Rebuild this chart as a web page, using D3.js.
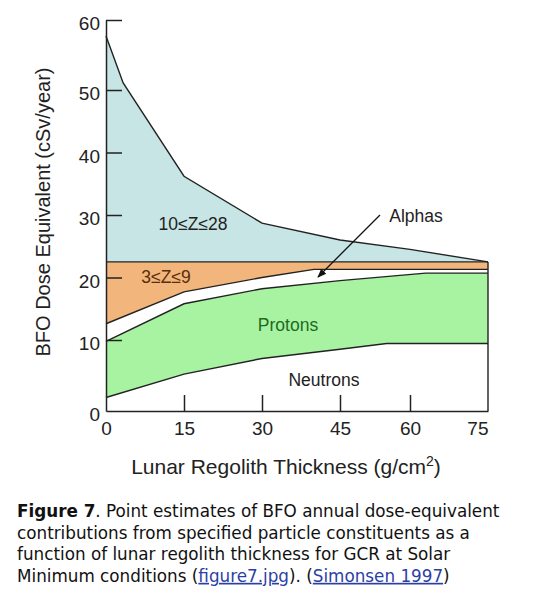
<!DOCTYPE html>
<html>
<head>
<meta charset="utf-8">
<script src="https://cdn.jsdelivr.net/npm/d3@7"></script>
<style>
  body { margin: 0; background: #fff; }
  text { font-family: "Liberation Sans", Arial, sans-serif; fill: #222; }
  .caption text { font-family: "DejaVu Sans", Verdana, sans-serif; }
</style>
</head>
<body>
<svg id="chart" width="540" height="593"></svg>
<script>
// DATA: cumulative layer tops [thickness g/cm2, dose cSv/year]
const neutronsTop = [[0, 1.9], [15, 5.2], [30, 7.4], [45, 8.7], [55, 9.5], [75, 9.5]];
const protonsTop = [[0, 9.8], [15, 15.8], [30, 18.2], [45, 19.5], [63, 20.7], [75, 20.7]];
const alphasTop = [[0, 12.6], [15, 17.7], [30, 20], [40, 21.3], [75, 21.3]];
const lightTop = [[0, 22.5], [75, 22.5]];
const heavyTop = [[0, 57.7], [3.3, 51], [15, 36.2], [30, 28.7], [45, 26], [60, 24.5], [75, 22.5]];

const xTicks = [0, 15, 30, 45, 60, 75];
const yTicks = [0, 10, 20, 30, 40, 50, 60];

const svg = d3.select('#chart');

//SCALES (the original drawing is not evenly spaced)
const x = d3.scaleLinear()
  .domain([0, 15, 30, 45, 60, 75])
  .range([106, 184, 262, 340, 410, 488]);

const y = d3.scaleLinear()
  .domain([0, 10, 50, 60])
  .range([411, 340, 90, 20]);

const line = d3.line().x(d => x(d[0])).y(d => y(d[1]));

// area between two boundaries
function band(lower, upper) {
  return line(upper.concat(lower.slice().reverse())) + 'Z';
}

const layers = [
  { lower: neutronsTop, upper: protonsTop, fill: '#a7f3a1' },
  { lower: alphasTop, upper: lightTop, fill: '#f2b67c' },
  { lower: lightTop, upper: heavyTop, fill: '#c6e5e4' },
];

svg.selectAll('.layer')
  .data(layers)
  .enter()
  .append('path')
  .attr('class', 'layer')
  .attr('d', d => band(d.lower, d.upper))
  .attr('fill', d => d.fill);

//BOUNDARY LINES
svg.selectAll('.edge')
  .data([neutronsTop, protonsTop, alphasTop, lightTop, heavyTop])
  .enter()
  .append('path')
  .attr('class', 'edge')
  .attr('d', line)
  .attr('fill', 'none')
  .attr('stroke', '#222')
  .attr('stroke-width', 1.4);

// right edge
svg.append('line')
  .attr('x1', x(75)).attr('x2', x(75))
  .attr('y1', y(0)).attr('y2', y(22.5))
  .attr('stroke', '#222')
  .attr('stroke-width', 1.4);

//AXES
const xAxis = svg.append('g')
  .attr('transform', `translate(0,${y(0)})`)
  .call(d3.axisBottom(x).tickValues(xTicks).tickSizeInner(-16).tickSizeOuter(0).tickPadding(11));

const yAxis = svg.append('g')
  .attr('transform', `translate(${x(0)},0)`)
  .call(d3.axisLeft(y).tickValues(yTicks).tickSizeInner(-16).tickSizeOuter(0).tickPadding(6));

[xAxis, yAxis].forEach(g => {
  g.select('.domain').attr('stroke', '#222').attr('stroke-width', 1.5);
  g.selectAll('.tick line').attr('stroke', '#222').attr('stroke-width', 1.5);
  g.selectAll('.tick text')
    .attr('font-family', '"Liberation Sans", Arial, sans-serif')
    .attr('font-size', 19)
    .attr('fill', '#222');
});
xAxis.selectAll('.tick').filter(d => d === 0 || d === 75).select('line').remove();
xAxis.selectAll('.tick').filter(d => d === 75).select('text').attr('text-anchor', 'end');
yAxis.selectAll('.tick').filter(d => d === 0).select('line').remove();
yAxis.selectAll('.tick text').attr('dy', '0.5em');

//AXIS TITLES
const xTitle = svg.append('text')
  .attr('x', 286)
  .attr('y', 474)
  .attr('font-size', 21)
  .style('text-anchor', 'middle');
xTitle.append('tspan').text('Lunar Regolith Thickness (g/cm');
xTitle.append('tspan').attr('font-size', 14).attr('dy', -8).text('2');
xTitle.append('tspan').attr('dy', 8).text(')');

svg.append('text')
  .attr('transform', 'translate(50,212) rotate(-90)')
  .attr('font-size', 20)
  .style('text-anchor', 'middle')
  .text('BFO Dose Equivalent (cSv/year)');

//REGION LABELS
const labels = [
  { t: '10\u2264Z\u226428', x: 193, y: 230, c: '#222' },
  { t: '3\u2264Z\u22649', x: 166, y: 283, c: '#5a2d0c' },
  { t: 'Protons', x: 288, y: 331, c: '#1e6a1e' },
  { t: 'Neutrons', x: 324, y: 386, c: '#222' },
  { t: 'Alphas', x: 416, y: 222, c: '#222' },
];
svg.selectAll('.lbl')
  .data(labels)
  .enter()
  .append('text')
  .attr('class', 'lbl')
  .attr('x', d => d.x)
  .attr('y', d => d.y)
  .attr('font-size', 17.5)
  .style('text-anchor', 'middle')
  .style('fill', d => d.c)
  .text(d => d.t);

// alphas pointer
svg.append('defs').append('marker')
  .attr('id', 'arrow')
  .attr('viewBox', '0 0 10 10')
  .attr('refX', 9).attr('refY', 5)
  .attr('markerWidth', 9).attr('markerHeight', 9)
  .attr('orient', 'auto')
  .attr('markerUnits', 'userSpaceOnUse')
  .append('path')
  .attr('d', 'M0,1L10,5L0,9Z')
  .attr('fill', '#111');

svg.append('line')
  .attr('x1', 380).attr('y1', 215)
  .attr('x2', 318).attr('y2', 277)
  .attr('stroke', '#111')
  .attr('stroke-width', 1.3)
  .attr('marker-end', 'url(#arrow)');

//CAPTION
const captionLines = [
  [{ t: 'Figure 7', b: true }, { t: '. Point estimates of BFO annual dose-equivalent' }],
  [{ t: 'contributions from specified particle constituents as a' }],
  [{ t: 'function of lunar regolith thickness for GCR at Solar' }],
  [{ t: 'Minimum conditions (' }, { t: 'figure7.jpg', link: true }, { t: '). (' },
   { t: 'Simonsen 1997', link: true }, { t: ')' }],
];

const cap = svg.append('g').attr('class', 'caption');
captionLines.forEach((parts, i) => {
  const tx = cap.append('text')
    .attr('x', 17)
    .attr('y', 517 + i * 21.6)
    .attr('font-size', 16.8);
  parts.forEach(p => {
    tx.append('tspan')
      .attr('font-weight', p.b ? 'bold' : null)
      .style('fill', p.link ? '#2b3fa6' : '#111')
      .style('text-decoration', p.link ? 'underline' : null)
      .text(p.t);
  });
});
</script>
</body>
</html>
